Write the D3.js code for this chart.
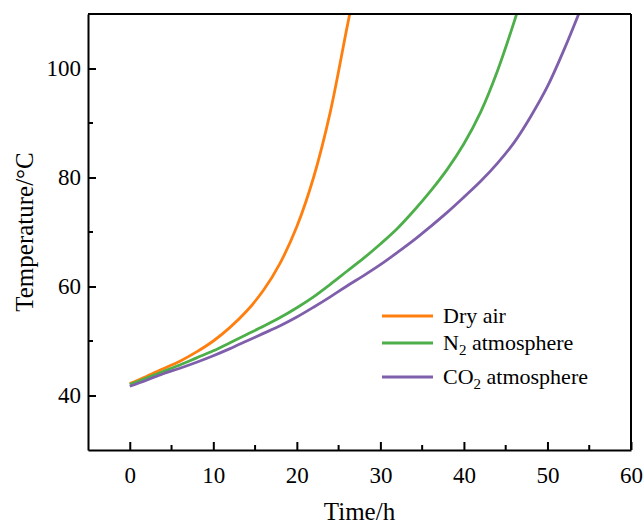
<!DOCTYPE html>
<html>
<head>
<meta charset="utf-8">
<script src="https://cdn.jsdelivr.net/npm/d3@7"></script>
<style>
  body { margin: 0; background: #fff; }
  svg text { font-family: "Liberation Serif", "Times New Roman", serif; fill: #000; }
</style>
</head>
<body>
<svg class="chart"></svg>
<script>
// readings, time in h and temperature in °C
const dryTime = [0, 2, 4, 6, 8, 10, 12, 14, 16, 18, 20, 22, 24, 26, 26.6];
const dryTemp = [42.2, 43.5, 44.9, 46.3, 48.0, 50.0, 52.5, 55.5, 59.3, 64.3, 71.0, 80.0, 92.0, 107.5, 112];

const n2Time = [0, 2, 4, 6, 8, 10, 12, 14, 16, 18, 20, 22, 24, 26, 28, 30, 32, 34, 36, 38, 40, 42, 44, 46, 46.7];
const n2Temp = [42.0, 43.2, 44.4, 45.6, 46.9, 48.2, 49.7, 51.2, 52.7, 54.3, 56.1, 58.1, 60.4, 62.8, 65.2, 67.8, 70.6, 73.9, 77.5, 81.5, 86.2, 92.0, 99.5, 108.5, 112];

const co2Time = [0, 2, 4, 6, 8, 10, 12, 14, 16, 18, 20, 22, 24, 26, 28, 30, 32, 34, 36, 38, 40, 42, 44, 46, 48, 50, 52, 54];
const co2Temp = [41.7, 42.8, 44.0, 45.0, 46.1, 47.3, 48.6, 50.0, 51.4, 52.8, 54.4, 56.2, 58.1, 60.1, 62.0, 64.0, 66.2, 68.5, 71.0, 73.6, 76.4, 79.3, 82.6, 86.4, 91.2, 96.7, 103.5, 111];

const xTicks = [0, 10, 20, 30, 40, 50, 60];
const yTicks = [40, 60, 80, 100];

const series = [
  { name: 'Dry air', sub: null, tail: '', color: '#ff7f0e', t: dryTime, v: dryTemp },
  { name: 'N', sub: '2', tail: ' atmosphere', color: '#4daf4a', t: n2Time, v: n2Temp },
  { name: 'CO', sub: '2', tail: ' atmosphere', color: '#7f5fab', t: co2Time, v: co2Temp }
];

const W = 644, H = 525;
const margin = { top: 14, right: 13, bottom: 75, left: 88 };
const iw = W - margin.left - margin.right;
const ih = H - margin.top - margin.bottom;

const svg = d3.select('.chart')
  .attr('width', W)
  .attr('height', H);

const x = d3.scaleLinear().domain([-5, 60]).range([0, iw]);
const y = d3.scaleLinear().domain([30, 110]).range([ih, 0]);

const g = svg.append('g')
  .attr('transform', `translate(${margin.left}, ${margin.top})`);

g.append('clipPath').attr('id', 'clip')
  .append('rect').attr('width', iw).attr('height', ih);

const line = d3.line()
  .x(d => x(d[0]))
  .y(d => y(d[1]))
  .curve(d3.curveCatmullRom);

g.append('g').attr('clip-path', 'url(#clip)')
  .selectAll('path')
  .data(series)
  .enter()
  .append('path')
  .attr('fill', 'none')
  .attr('stroke', d => d.color)
  .attr('stroke-width', 2.8)
  .attr('d', d => line(d.t.map((t, i) => [t, d.v[i]])));

// axes, ticks drawn inward
const xAxis = d3.axisBottom(x).tickValues(xTicks).tickSizeInner(-8).tickSizeOuter(0).tickPadding(17);
const yAxis = d3.axisLeft(y).tickValues(yTicks).tickSizeInner(-8).tickSizeOuter(0).tickPadding(7);

const gx = g.append('g').attr('transform', `translate(0, ${ih})`).call(xAxis);
const gy = g.append('g').call(yAxis);

[gx, gy].forEach(a => {
  a.select('.domain').attr('stroke', '#000').attr('stroke-width', 2);
  a.selectAll('.tick line').attr('stroke', '#000').attr('stroke-width', 2);
  a.selectAll('.tick text').style('font-size', '23px').attr('fill', '#000');
});

// minor ticks
g.append('g').selectAll('line')
  .data(d3.range(5, 60, 10))
  .enter().append('line')
  .attr('x1', d => x(d)).attr('x2', d => x(d))
  .attr('y1', ih).attr('y2', ih - 5)
  .attr('stroke', '#000').attr('stroke-width', 2);

g.append('g').selectAll('line')
  .data([50, 70, 90])
  .enter().append('line')
  .attr('y1', d => y(d)).attr('y2', d => y(d))
  .attr('x1', 0).attr('x2', 5)
  .attr('stroke', '#000').attr('stroke-width', 2);

// top and right frame
g.append('line').attr('x1', 0).attr('x2', iw).attr('y1', 0).attr('y2', 0)
  .attr('stroke', '#000').attr('stroke-width', 2);
g.append('line').attr('x1', iw).attr('x2', iw).attr('y1', 0).attr('y2', ih)
  .attr('stroke', '#000').attr('stroke-width', 2);

// axis titles
svg.append('text')
  .attr('x', margin.left + iw / 2)
  .attr('y', 520)
  .attr('text-anchor', 'middle')
  .style('font-size', '25px')
  .text('Time/h');

svg.append('text')
  .attr('transform', `translate(33, ${margin.top + ih / 2}) rotate(-90)`)
  .attr('text-anchor', 'middle')
  .style('font-size', '25px')
  .text('Temperature/°C');

// legend
const legendY = [316, 343, 377];
const lg = svg.append('g').selectAll('g')
  .data(series)
  .enter().append('g')
  .attr('transform', (d, i) => `translate(382, ${legendY[i]})`);

lg.append('line')
  .attr('x1', 0).attr('x2', 51)
  .attr('stroke', d => d.color)
  .attr('stroke-width', 3);

const lt = lg.append('text')
  .attr('x', 61)
  .attr('y', 7)
  .style('font-size', '22px');

lt.append('tspan').text(d => d.name);
lt.filter(d => d.sub).append('tspan')
  .attr('dy', 5)
  .style('font-size', '15px')
  .text(d => d.sub);
lt.filter(d => d.sub).append('tspan')
  .attr('dy', -5)
  .text(d => d.tail);
</script>
</body>
</html>
